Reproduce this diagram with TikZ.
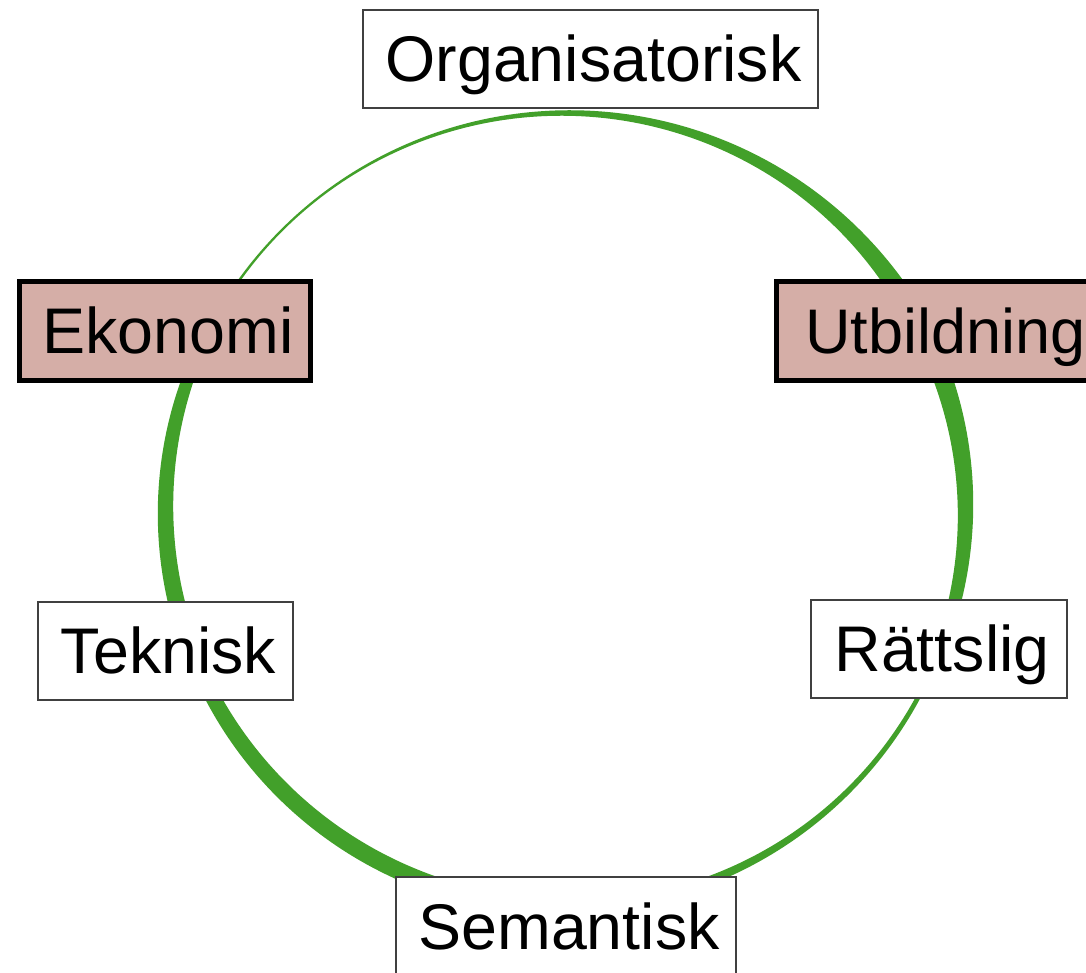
\documentclass[tikz,border=0pt]{standalone}
\usepackage{fontspec}
\setmainfont{Liberation Sans}
\definecolor{ringgreen}{RGB}{66,160,42}
\definecolor{rosy}{RGB}{213,174,167}
\definecolor{thinline}{RGB}{64,64,64}
\newcommand\ringlabfont{\fontsize{64.5}{72}\selectfont}
\newcommand\ringlabfontsmall{\fontsize{63}{70}\selectfont}
\pgfmathdeclarefunction{ringw}{1}{%
  \begingroup
  \pgfmathparse{((#1)-(\segA))/((\segB)-(\segA))}\let\rs\pgfmathresult
  \pgfmathparse{\segWa+(-3*\segWa+4*\segWm-\segWb)*\rs+(2*\segWa-4*\segWm+2*\segWb)*\rs*\rs}%
  \pgfmathsmuggle\pgfmathresult\endgroup}
\newcommand\ringseg[5]{%
  \def\segA{#1}\def\segB{#2}\def\segWa{#3}\def\segWm{#4}\def\segWb{#5}%
  \fill[ringgreen] plot[domain=#1:#2,samples=120,variable=\t]
    ({565.5+(400+0.5*ringw(\t))*cos(\t)},{462+(397+0.5*ringw(\t))*sin(\t)})
    -- plot[domain=#2:#1,samples=120,variable=\t]
    ({565.5+(400-0.5*ringw(\t))*cos(\t)},{462+(397-0.5*ringw(\t))*sin(\t)})
    -- cycle;}
\tikzset{
  boxtext/.style={inner sep=0pt,text height=46pt,text depth=0pt,
    font=\ringlabfont,execute at begin node={\hspace*{6pt}}},
  thinbox/.style={boxtext,draw=thinline,line width=1.5pt,fill=white,minimum height=98pt},
  thickbox/.style={boxtext,draw=black,line width=4.5pt,fill=rosy,minimum height=99pt}
}
\begin{document}
\begin{tikzpicture}[x=1pt,y=1pt]
\useasboundingbox (0,0) rectangle (1086,972);
\clip (0,0) rectangle (1086,972);
\fill[white] (0,0) rectangle (1086,972);
% ring segments
\ringseg{147}{33}{2.5}{5.5}{19}
\ringseg{21}{-15}{19.5}{16}{12.5}
\ringseg{-26}{-72}{4.5}{6}{9}
\ringseg{256}{206}{17}{17}{15}
\ringseg{196}{158}{17}{15}{11.5}
% boxes
\node[thinbox,minimum width=455pt] (org) at (590.5,913) {Organisatorisk};
\node[thickbox,minimum width=291pt] (eko) at (165,641) {Ekonomi};
\node[thickbox,minimum width=332pt,font=\ringlabfontsmall,
      execute at begin node={}] (utb) at (942.5,641) {Utbildning};
\node[thinbox,minimum width=255pt] (tek) at (165.5,321) {Teknisk};
\node[thinbox,minimum width=256pt] (rat) at (939,323) {R\"attslig};
\node[thinbox,minimum width=340pt] (sem) at (566,46) {Semantisk};
\end{tikzpicture}
\end{document}
